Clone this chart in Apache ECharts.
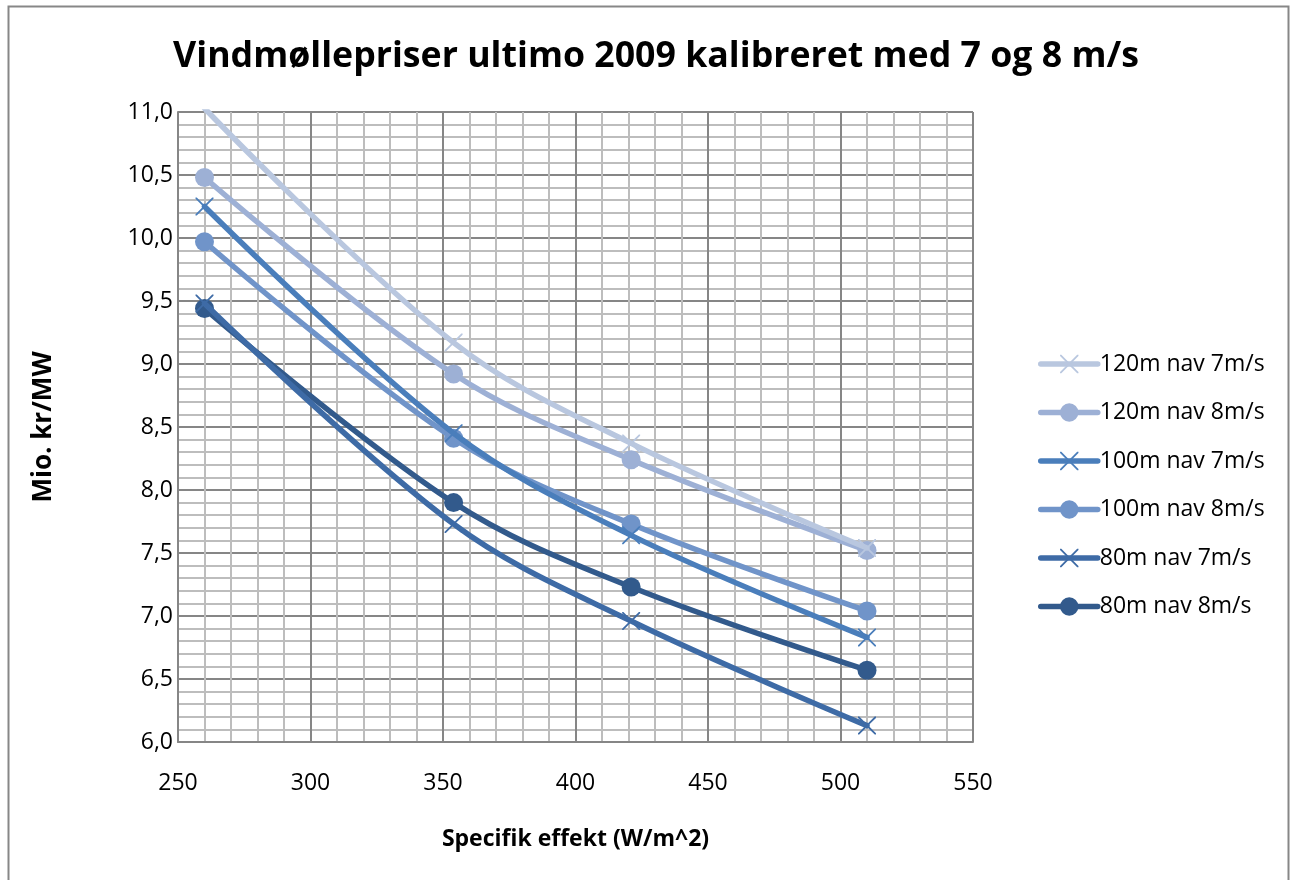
<!DOCTYPE html>
<html>
<head>
<meta charset="utf-8">
<script src="https://cdn.jsdelivr.net/npm/echarts@6/dist/echarts.min.js"></script>
<style>
html,body{margin:0;padding:0;background:#fff;}
#chart{width:1295px;height:880px;}
</style>
</head>
<body>
<div id="chart"></div>
<script>
const xValues = [260, 354, 421, 510];
const s120m7 = [11.03, 9.17, 8.37, 7.54];
const s120m8 = [10.48, 8.92, 8.24, 7.52];
const s100m7 = [10.25, 8.45, 7.64, 6.83];
const s100m8 = [9.97, 8.41, 7.73, 7.04];
const s80m7 = [9.48, 7.73, 6.96, 6.13];
const s80m8 = [9.44, 7.90, 7.23, 6.57];
const seriesNames = ['120m nav 7m/s','120m nav 8m/s','100m nav 7m/s','100m nav 8m/s','80m nav 7m/s','80m nav 8m/s'];
const titleText = 'Vindmøllepriser ultimo 2009 kalibreret med 7 og 8 m/s';
const xName = 'Specifik effekt (W/m^2)';
const yName = 'Mio. kr/MW';

const colors = ['#B9C7DF','#9DB0D5','#4A7EBB','#7094C9','#3E6BA6','#325A8C'];
const crossPath = 'path://M0,0 L1.4,0 L10,8.6 L18.6,0 L20,0 L20,1.4 L11.4,10 L20,18.6 L20,20 L18.6,20 L10,11.4 L1.4,20 L0,20 L0,18.6 L8.6,10 L0,1.4 Z';
const allData = [s120m7, s120m8, s100m7, s100m8, s80m7, s80m8];
const isCross = [true,false,true,false,true,false];

const series = allData.map((vals, i) => ({
  name: seriesNames[i],
  type: 'line',
  smooth: 0.35,
  clip: true,
  data: xValues.map((x, j) => [x, vals[j]]),
  symbol: isCross[i] ? crossPath : 'circle',
  symbolSize: isCross[i] ? 18 : 19,
  showSymbol: true,
  lineStyle: {width: 5.5, color: colors[i], cap: 'round'},
  itemStyle: {color: colors[i], borderWidth: 0},
  emphasis: {disabled: true},
  z: 10 - i
}));

const chart = echarts.init(document.getElementById('chart'), null, {renderer: 'canvas'});
chart.setOption({
  animation: false,
  backgroundColor: '#fff',
  textStyle: {fontFamily: 'Open Sans'},
  title: {
    text: titleText,
    left: 651, top: 34, textAlign: 'center',
    textStyle: {fontFamily: 'Open Sans', fontWeight: 'bold', fontSize: 35.7, color: '#000'}
  },
  graphic: [{
    type: 'rect', shape: {x: 8.5, y: 6.5, width: 1280, height: 880},
    style: {fill: 'none', stroke: '#878787', lineWidth: 2}, silent: true, z: -1
  }],
  legend: {
    orient: 'vertical',
    left: 1038, top: 352.5, padding: 0,
    itemWidth: 57, itemHeight: 23, itemGap: 25.5,
    data: seriesNames,
    lineStyle: {width: 5.5, cap: 'round'},
    textStyle: {fontFamily: 'Open Sans', fontSize: 23, color: '#000', lineHeight: 23, padding: [0,0,0,-3]},
    selectedMode: false
  },
  grid: {left: 178, top: 112, width: 795, height: 630, containLabel: false},
  xAxis: {
    type: 'value', min: 250, max: 550, interval: 50,
    name: xName, nameLocation: 'middle', nameGap: 86,
    nameTextStyle: {fontFamily: 'Open Sans', fontWeight: 'bold', fontSize: 23, color: '#000'},
    axisLine: {show: true, lineStyle: {color: '#868686', width: 2}},
    axisTick: {show: false},
    axisLabel: {fontSize: 23, color: '#000', margin: 30, fontFamily: 'Open Sans'},
    splitLine: {show: true, lineStyle: {color: '#868686', width: 2}},
    minorTick: {show: false, splitNumber: 5},
    minorSplitLine: {show: true, lineStyle: {color: '#BDBDBD', width: 2}}
  },
  yAxis: {
    type: 'value', min: 6, max: 11, interval: 0.5,
    name: yName, nameLocation: 'middle', nameGap: 121, nameRotate: 90,
    nameTextStyle: {fontFamily: 'Open Sans', fontWeight: 'bold', fontSize: 26, color: '#000'},
    axisLine: {show: true, lineStyle: {color: '#868686', width: 2}},
    axisTick: {show: false},
    axisLabel: {fontSize: 23, color: '#000', margin: 5, fontFamily: 'Open Sans',
      formatter: v => v.toFixed(1).replace('.', ',')},
    splitLine: {show: true, lineStyle: {color: '#868686', width: 2}},
    minorTick: {show: false, splitNumber: 5},
    minorSplitLine: {show: true, lineStyle: {color: '#BDBDBD', width: 2}}
  },
  series: series
});
</script>
</body>
</html>
